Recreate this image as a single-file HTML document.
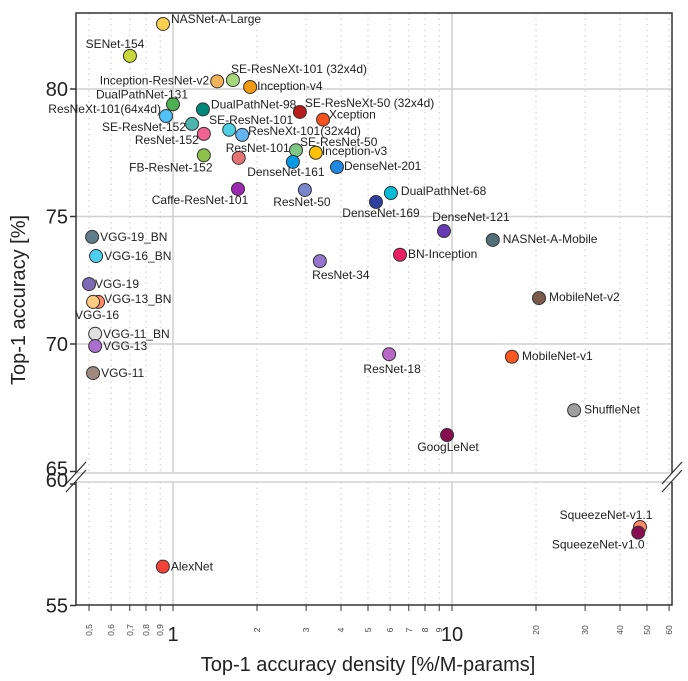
<!DOCTYPE html>
<html><head><meta charset="utf-8"><style>
body{margin:0;background:#fff;}
svg{display:block;font-family:"Liberation Sans",sans-serif;}
</style></head><body>
<svg id="chart" width="688" height="681" viewBox="0 0 688 681" xmlns="http://www.w3.org/2000/svg"></svg>
<script>
const names=["NASNet-A-Large","SENet-154","Inception-ResNet-v2","SE-ResNeXt-101 (32x4d)","Inception-v4","DualPathNet-131","ResNeXt-101(64x4d)","DualPathNet-98","SE-ResNeXt-50 (32x4d)","Xception","SE-ResNet-152","ResNet-152","SE-ResNet-101","ResNeXt-101(32x4d)","ResNet-101","FB-ResNet-152","SE-ResNet-50","Inception-v3","DenseNet-161","DenseNet-201","Caffe-ResNet-101","ResNet-50","DualPathNet-68","DenseNet-169","DenseNet-121","NASNet-A-Mobile","BN-Inception","ResNet-34","VGG-19_BN","VGG-16_BN","VGG-19","VGG-13_BN","VGG-16","VGG-11_BN","VGG-13","VGG-11","MobileNet-v2","MobileNet-v1","ResNet-18","ShuffleNet","GoogLeNet","SqueezeNet-v1.1","SqueezeNet-v1.0","AlexNet"];
const density=[0.921,0.701,1.44,1.64,1.89,1.0,0.944,1.28,2.85,3.45,1.17,1.29,1.59,1.77,1.72,1.29,2.76,3.25,2.69,3.87,1.71,2.97,6.04,5.34,9.36,14.0,6.51,3.36,0.513,0.530,0.50,0.539,0.517,0.526,0.526,0.517,20.5,16.4,5.95,27.4,9.6,47.2,46.5,0.92];
const accuracy=[82.55,81.3,80.3,80.35,80.08,79.4,78.94,79.2,79.1,78.8,78.63,78.24,78.4,78.2,77.3,77.4,77.6,77.5,77.14,76.94,76.08,76.04,75.92,75.57,74.43,74.08,73.5,73.25,74.2,73.45,72.35,71.65,71.65,70.4,69.92,68.86,71.8,69.5,69.6,67.4,66.43,58.23,58.0,56.6];
const colors=["#f9d14f","#c8d93a","#f2b25a","#a8d67a","#f39a10","#4caf50","#4fc3f7","#00897b","#b71c1c","#f4511e","#4db6ac","#f06292","#4dd0e1","#64b5f6","#e57373","#8bc34a","#81c784","#ffc107","#039be5","#1e88e5","#9c27b0","#7986cb","#00bcd4","#303f9f","#673ab7","#546e7a","#e91e63","#9575cd","#607d8b","#4dd0f0","#7e6bb8","#ff8a65","#ffcc80","#e0e0e0","#ab6fd0","#a1887f","#7b5a4a","#ff5722","#ba68c8","#9e9e9e","#880e4f","#ff8a65","#880e4f","#f44336"];
// label layout offsets [dx,dy,anchor]
const labelPos=[[8,-1,"s"],[-15,-8,"m"],[-8,3,"e"],[-2,-7,"s"],[7,3,"s"],[-31,-6,"m"],[-5,-3,"e"],[8,-1,"s"],[5,-5,"s"],[6,-1,"s"],[-6,7,"e"],[-5,10,"e"],[22,-6,"m"],[6,0,"s"],[19,-6,"m"],[-33,16,"m"],[4,-4,"s"],[6,2,"s"],[-7,14,"m"],[7,3,"s"],[-38,15,"m"],[-3,16,"m"],[10,2,"s"],[5,15,"m"],[27,-10,"m"],[10,3,"s"],[8,3,"s"],[21,18,"m"],[8,4,"s"],[8,4,"s"],[6,4,"s"],[6,1,"s"],[4,17,"m"],[8,4,"s"],[8,4,"s"],[8,4,"s"],[10,3,"s"],[10,3,"s"],[3,19,"m"],[10,3,"s"],[1,16,"m"],[-34,-8,"m"],[-40,16,"m"],[8,4,"s"]];
const yTopTicks=[80,75,70,65];
const yBotTicks=[60,55];
const xMinor=[0.5,0.6,0.7,0.8,0.9,2,3,4,5,6,7,8,9,20,30,40,50,60];
const xMajor=[1,10];

const L=76,R=672,T=13,B=605;
const xs=v=>173+279*Math.log10(v);
const yTop=v=>89+(80-v)*25.5;
const yBot=v=>484+(60-v)*24.3;
const ys=v=>v>=62?yTop(v):yBot(v);
const svg=document.getElementById('chart');
const NS="http://www.w3.org/2000/svg";
function mk(tag,attrs,parent){const e=document.createElementNS(NS,tag);for(const k in attrs)e.setAttribute(k,attrs[k]);(parent||svg).appendChild(e);return e;}

const grid=mk('g',{});


xMinor.forEach(v=>{
  [[T,473],[482,B]].forEach(([a,b])=>{
    const l=mk('line',{x1:xs(v),x2:xs(v),y1:a,y2:b,stroke:'#c8c8c8','stroke-width':1,'stroke-dasharray':'1.5,4'},grid);
    
    
  });
});
xMajor.forEach(v=>{
  [[T,473],[482,B]].forEach(([a,b])=>{
    const l=mk('line',{x1:xs(v),x2:xs(v),y1:a,y2:b,stroke:'#cfcfcf','stroke-width':1.5},grid);
    
    
  });
});
[80,75,70].forEach(v=>{
  const l=mk('line',{x1:L,x2:R,y1:yTop(v),y2:yTop(v),stroke:'#cfcfcf','stroke-width':1.5},grid);
  
  
});
[473,482].forEach(y=>{
  const l=mk('line',{x1:L,x2:R,y1:y,y2:y,stroke:'#d0d0d0','stroke-width':1.5},grid);
  
  
});

const frame=mk('g',{stroke:'#333','stroke-width':1.5,fill:'none'});


mk('path',{d:`M${L},473 L${L},${T} L${R},${T} L${R},473 M${L},482 L${L},${B} L${R},${B} L${R},482`},frame);
mk('path',{d:`M66,484 L86,462 M66,492 L86,470 M662,484 L682,462 M662,492 L682,470`,'stroke-width':1.2},frame);

yTopTicks.forEach(v=>{
  const y=yTop(v);
  mk('line',{x1:L-6,x2:L,y1:y,y2:y,stroke:'#333','stroke-width':1.5});
  const t=mk('text',{x:L-8,y:y+(v==65?4:7),'text-anchor':'end','font-size':20,fill:'#222'});
  t.textContent=v;
  
  
});
yBotTicks.forEach(v=>{
  const y=yBot(v);
  mk('line',{x1:L-6,x2:L,y1:y,y2:y,stroke:'#333','stroke-width':1.5});
  const t=mk('text',{x:L-8,y:y+(v==60?3:7),'text-anchor':'end','font-size':20,fill:'#222'});
  t.textContent=v;
  
  
});
xMinor.concat(xMajor).forEach(v=>{
  const x=xs(v);
  mk('line',{x1:x,x2:x,y1:B,y2:B+6,stroke:'#333','stroke-width':1});
});
xMinor.forEach(v=>{
  const x=xs(v);
  const t=mk('text',{x:0,y:0,'text-anchor':'middle','font-size':8.5,fill:'#444',transform:`translate(${x+3},630) rotate(-90)`});
  t.textContent=String(v).replace('.',',');
  
  
});
xMajor.forEach(v=>{
  const t=mk('text',{x:xs(v),y:641,'text-anchor':'middle','font-size':20,fill:'#222'});
  t.textContent=v;
  
  
});

const pts=mk('g',{});


names.forEach((n,i)=>{
  const x=xs(density[i]),y=ys(accuracy[i]);
  const c=mk('circle',{cx:x,cy:y,r:6.5,fill:colors[i],stroke:'#333','stroke-width':1},pts);
  
  
});
names.forEach((n,i)=>{
  const x=xs(density[i]),y=ys(accuracy[i]);
  const p=labelPos[i];
  const t=mk('text',{x:x+p[0],y:y+p[1],'text-anchor':p[2]=='s'?'start':p[2]=='e'?'end':'middle','font-size':12,fill:'#222'},pts);
  t.textContent=n;
  
  
});

const xt=mk('text',{x:368,y:671,'text-anchor':'middle','font-size':20,fill:'#222'});
xt.textContent='Top-1 accuracy density [%/M-params]';


const yt=mk('text',{x:0,y:0,'text-anchor':'middle','font-size':20,fill:'#222',transform:'translate(25,300) rotate(-90)'});
yt.textContent='Top-1 accuracy [%]';


</script>
</body></html>
